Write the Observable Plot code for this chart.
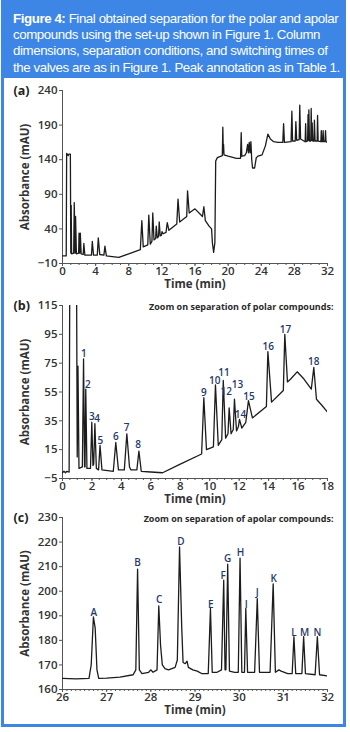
<!DOCTYPE html>
<html><head><meta charset="utf-8">
<script src="https://cdn.jsdelivr.net/npm/d3@7"></script>
<script src="https://cdn.jsdelivr.net/npm/@observablehq/plot@0.6"></script>
<style>
html,body{margin:0;padding:0;background:#fff;width:350px;height:732px;overflow:hidden}
#box{position:absolute;left:1px;top:0;width:345px;height:727px;box-sizing:border-box;border:3px solid #3d86e6;border-top:none}
#head{position:absolute;left:1px;top:0;width:345px;height:78px;background:#3d86e6;color:#fff;font-family:"Liberation Sans",Arial,sans-serif;font-size:13.3px;letter-spacing:-0.42px;line-height:16.2px;padding:11px 0 0 12px;box-sizing:border-box;white-space:nowrap;overflow:hidden}
.panel{position:absolute;left:0}
</style></head><body>
<div id="box"></div>
<div id="head"><b>Figure 4:</b> Final obtained separation for the polar and apolar<br>compounds using the set-up shown in Figure 1. Column<br>dimensions, separation conditions, and switching times of<br>the valves are as in Figure 1. Peak annotation as in Table 1.</div>
<div id="pa" class="panel" style="top:78px"></div>
<div id="pb" class="panel" style="top:293px"></div>
<div id="pc" class="panel" style="top:505px"></div>
<script>
// Panel (a): full chromatogram
const timeA = [0,0.45,0.5,0.7,0.75,0.95,1.0,1.05,1.1,1.35,1.42,1.52,1.58,1.68,1.95,2.0,2.08,2.15,2.25,2.5,2.58,2.7,3.5,3.6,3.75,4.2,4.32,4.5,5.0,5.12,5.3,6.0,6.8,8.0,9.4,9.58,9.75,10.3,10.42,10.6,10.8,10.9,11.05,11.25,11.32,11.45,11.6,11.68,11.8,11.95,12.02,12.15,12.5,12.65,12.85,13.8,13.95,14.15,15.0,15.1,15.3,16.0,16.9,17.07,17.25,17.7,18.0,18.1,18.25,18.4,18.5,18.7,19.3,19.36,19.42,19.45,19.5,20.0,21.0,21.5,21.58,21.65,22.0,22.2,22.35,22.45,22.55,22.65,22.75,22.85,22.95,23.2,23.4,23.6,24.1,24.5,24.8,25.1,25.5,26.0,26.6,26.7,26.8,27.6,27.7,27.78,28.1,28.18,28.28,28.58,28.65,28.75,29.3,29.36,29.42,29.6,29.65,29.7,29.75,29.82,29.98,30.03,30.1,30.15,30.22,30.37,30.42,30.5,30.75,30.8,30.87,31.2,31.25,31.3,31.42,31.47,31.53,31.7,31.76,31.82,32.0];
const absA = [1,1,149,146,148,148,5,74,4,5,78,5,58,4,5,34,5,34,4,3,19,2,2,22,2,2,27,3,2,15,1,0,-1,4,10,52,14,17,60,18,22,63,24,26,44,27,29,50,30,31,36,33,35,49,38,47,83,50,58,95,63,69,58,72,52,44,40,20,6,20,138,143,146,187,150,162,147,145,142,142,179,145,146,150,162,150,165,150,166,140,128,128,143,145,147,160,177,170,166,165,165,192,165,166,210,167,167,195,168,169,219,170,166,192,166,167,205,168,212,167,167,214,168,193,167,167,197,167,167,204,167,166,182,166,166,182,166,166,182,166,165];

// Panel (b): polar compounds
const timeB = [0,0.1,0.2,0.3,0.45,0.5,0.95,1.0,1.05,1.12,1.35,1.43,1.5,1.53,1.58,1.66,1.9,1.99,2.07,2.12,2.2,2.3,2.45,2.55,2.68,3.45,3.62,3.8,4.2,4.37,4.55,4.65,5.05,5.19,5.35,6.0,6.8,8.0,9.45,9.6,9.78,10.25,10.39,10.58,10.82,10.92,11.08,11.24,11.32,11.45,11.6,11.68,11.82,11.95,12.02,12.18,12.45,12.63,12.9,13.85,13.95,14.2,15.0,15.1,15.28,15.5,15.94,16.4,16.9,17.07,17.25,17.6,18.0];
const absB = [-1,0,-1,0,-0.5,149,148,10,73,2,3,78,3,3,57,2,2,34,4,5,33,2,1,18,1,0,20,1,1,26,3,1,1,14,0,-0.5,-1,5,12,51,15,17,60,18,22,63,23,26,44,26,29,50,28,31,36,30,34,49,37,45,83,48,56,95,62,64,69,64,57,72,50,46,41];
const peakLabelsB = ["1","2","3","4","5","6","7","8","9","10","11","12","13","14","15","16","17","18"];
const labelTimesB = [1.45,1.72,1.99,2.35,2.58,3.62,4.35,5.14,9.6,10.34,10.97,11.12,11.88,12.09,12.66,13.97,15.15,17.07];
const labelValuesB = [81.6,60.1,37.6,36.5,21.4,23.7,29.9,18.4,54.5,63.1,68.4,54.9,60.3,39.4,51.9,86.2,98.3,75.8];

// Panel (c): apolar compounds
const timeC = [26.0,26.3,26.6,26.65,26.7,26.74,26.78,26.82,27.0,27.3,27.6,27.66,27.7,27.74,27.8,27.95,28.0,28.05,28.14,28.18,28.22,28.26,28.32,28.4,28.55,28.6,28.65,28.7,28.73,28.78,28.82,28.85,28.95,29.05,29.15,29.3,29.35,29.39,29.5,29.6,29.65,29.68,29.7,29.74,29.78,29.9,29.98,30.02,30.06,30.12,30.15,30.19,30.35,30.41,30.46,30.7,30.77,30.82,30.9,30.95,31.1,31.2,31.24,31.28,31.42,31.46,31.5,31.72,31.77,31.82,32.0];
const absC = [164.5,164.3,164.5,170,189.5,185,168,164.5,164.6,165,166,168,209,168,166.5,167,168,167,168,194,178,170,168.5,168,169,172,218,185,171,170.5,171.5,169,168,167.5,166.5,166.5,193,167,167,168,204.5,168,168,211,167.5,167,167,213.5,167,167,193,167,167,197,167,167,203,167,168,167.5,166.5,166.5,181.5,166.5,166.5,181.5,166.5,166,181.5,166,165.5];
const peakLabelsC = ["A","B","C","D","E","F","G","H","I","J","K","L","M","N"];
const labelTimesC = [26.71,27.7,28.19,28.68,29.36,29.64,29.74,30.03,30.16,30.41,30.78,31.24,31.48,31.77];
const labelValuesC = [191.1,211.4,196.6,220,194.5,206.4,213,215.6,194.6,199.5,205,183.1,182.9,182.9];

const ticksA = [0,4,8,12,16,20,24,28,32];
const yTicksA = [-10,40,90,140,190,240];
const ticksB = [0,2,4,6,8,10,12,14,16,18];
const yTicksB = [-5,15,35,55,75,95,115];
const ticksC = [26,27,28,29,30,31,32];
const yTicksC = [160,170,180,190,200,210,220,230];

const INK = "#1c1c1c", NAVY = "#1f3a6a", AXIS = "#555";

function panel({times, values, xDomain, yDomain, xTicks, yTicks, minor, tag, note, labels, lTimes, lValues, frameH}) {
  const marks = [
    Plot.ruleY([yDomain[0]], {stroke: AXIS, strokeWidth: 1}),
    Plot.ruleX([xDomain[0]], {stroke: AXIS, strokeWidth: 1}),
    Plot.axisX(minor, {tickSize: 2, tickFormat: () => "", stroke: AXIS, label: null}),
    Plot.axisX(xTicks, {tickSize: 3, tickPadding: 0, stroke: AXIS, label: null, fill: "#333"}),
    Plot.axisY(yTicks, {tickSize: 3, tickPadding: 2, stroke: AXIS, label: null, fill: "#333"}),
    Plot.line(values, {x: times, y: values, stroke: INK, strokeWidth: 1.3, clip: true}),
    Plot.text([tag], {frameAnchor: "top-left", dx: -49, textAnchor: "start", lineAnchor: "middle", fontSize: 12.5, fontWeight: 700, fill: "#222"}),
    Plot.text(["Time (min)"], {frameAnchor: "bottom", dy: 21, lineAnchor: "middle", fontSize: 11.5, fontWeight: 700, fill: "#333"}),
    Plot.text(["Absorbance (mAU)"], {frameAnchor: "left", dx: -37, rotate: -90, textAnchor: "middle", lineAnchor: "middle", fontSize: 11.5, fontWeight: 700, fill: "#333"})
  ];
  if (note) marks.push(Plot.text([note], {frameAnchor: "top-right", dx: 6, dy: 2, textAnchor: "end", lineAnchor: "middle", fontSize: 9, fontWeight: 700, fill: "#2a2a2a"}));
  if (labels) marks.push(Plot.text(labels, {x: lTimes, y: lValues, text: labels, fontSize: 10, fontWeight: 600, fill: NAVY, letterSpacing: -0.3}));
  return Plot.plot({
    width: 350, height: frameH + 42,
    marginLeft: 62, marginRight: 23, marginTop: 12, marginBottom: 30,
    style: {fontFamily: "'Open Sans', sans-serif", fontSize: "11.5px", fontWeight: 600, color: "#333", background: "transparent", overflow: "visible"},
    x: {domain: xDomain},
    y: {domain: yDomain},
    marks
  });
}

document.getElementById("pa").append(panel({
  times: timeA, values: absA, xDomain: [0, 32], yDomain: [-10, 240], xTicks: ticksA, yTicks: yTicksA,
  minor: d3.range(0, 32.01, 1), tag: "(a)", frameH: 173
}));
document.getElementById("pb").append(panel({
  times: timeB, values: absB, xDomain: [0, 18], yDomain: [-5, 115], xTicks: ticksB, yTicks: yTicksB,
  minor: d3.range(0, 18.01, 0.5), tag: "(b)", note: "Zoom on separation of polar compounds:",
  labels: peakLabelsB, lTimes: labelTimesB, lValues: labelValuesB, frameH: 173
}));
document.getElementById("pc").append(panel({
  times: timeC, values: absC, xDomain: [26, 32], yDomain: [160, 230], xTicks: ticksC, yTicks: yTicksC,
  minor: d3.range(26, 32.001, 0.1), tag: "(c)", note: "Zoom on separation of apolar compounds:",
  labels: peakLabelsC, lTimes: labelTimesC, lValues: labelValuesC, frameH: 172
}));
</script>
</body></html>
